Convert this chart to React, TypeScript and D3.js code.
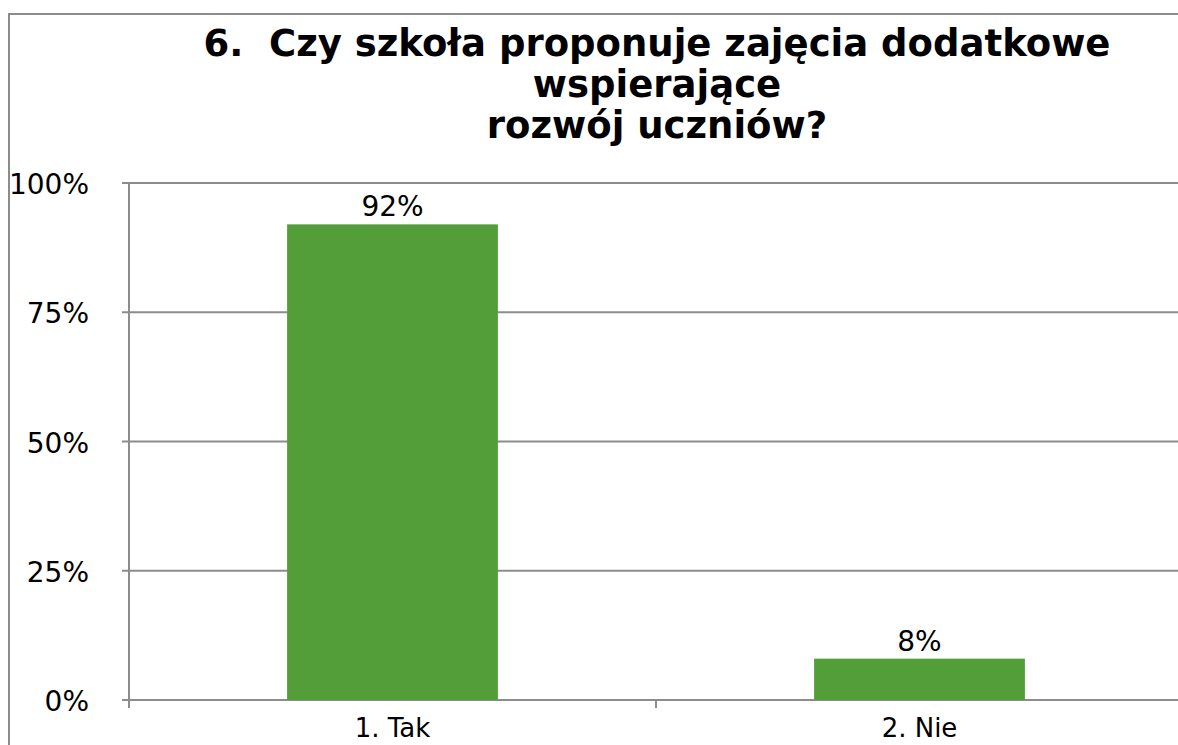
import React, { useEffect, useRef } from 'react';
import * as d3 from 'd3';

const categories = ['1. Tak', '2. Nie'];
const values = [92, 8];
const yTicks = [0, 25, 50, 75, 100];
const titleLines = ['6.  Czy szkoła proponuje zajęcia dodatkowe', 'wspierające', 'rozwój uczniów?'];

const App: React.FC = () => {
  const svgRef = useRef<SVGSVGElement>(null);

  useEffect(() => {
    if (!svgRef.current) return;
    const svg = d3.select(svgRef.current);
    svg.selectAll('*').remove();

    const width = 1178;
    const font = 'Verdana, "DejaVu Sans", sans-serif';
    const gridColor = '#8c8c8c';

    // outer chart frame (cropped on the right and bottom)
    svg.append('rect')
      .attr('x', 9)
      .attr('y', 14)
      .attr('width', 1200)
      .attr('height', 800)
      .attr('fill', '#ffffff')
      .attr('stroke', gridColor)
      .attr('stroke-width', 2);

    const left = 129;
    const top = 183;
    const bottom = 700;
    const catWidth = 527;

    const x = d3.scaleBand<string>()
      .domain(categories)
      .range([left, left + catWidth * categories.length])
      .paddingInner(0.6)
      .paddingOuter(0.3);

    const y = d3.scaleLinear().domain([0, 100]).range([bottom, top]);

    // gridlines
    svg.append('g')
      .selectAll('line')
      .data(yTicks)
      .join('line')
      .attr('x1', left - 7)
      .attr('x2', width + 10)
      .attr('y1', d => y(d))
      .attr('y2', d => y(d))
      .attr('stroke', gridColor)
      .attr('stroke-width', 2);

    // y axis
    svg.append('line')
      .attr('x1', left).attr('x2', left)
      .attr('y1', top).attr('y2', bottom + 7)
      .attr('stroke', gridColor)
      .attr('stroke-width', 2);

    svg.append('g')
      .selectAll('text')
      .data(yTicks)
      .join('text')
      .attr('x', 89)
      .attr('y', d => y(d) + 3)
      .attr('text-anchor', 'end')
      .attr('dominant-baseline', 'middle')
      .attr('font-family', font)
      .attr('font-size', 28)
      .attr('fill', '#000')
      .text(d => `${d}%`);

    // category boundary ticks
    const bounds = d3.range(categories.length + 1).map(i => left + i * catWidth);
    svg.append('g')
      .selectAll('line')
      .data(bounds)
      .join('line')
      .attr('x1', d => d).attr('x2', d => d)
      .attr('y1', bottom).attr('y2', bottom + 8)
      .attr('stroke', gridColor)
      .attr('stroke-width', 2);

    // bars
    svg.append('g')
      .selectAll('rect')
      .data(values)
      .join('rect')
      .attr('x', (_, i) => x(categories[i])!)
      .attr('width', x.bandwidth())
      .attr('y', d => y(d))
      .attr('height', d => bottom - y(d))
      .attr('fill', '#549e39');

    // value labels
    svg.append('g')
      .selectAll('text')
      .data(values)
      .join('text')
      .attr('x', (_, i) => x(categories[i])! + x.bandwidth() / 2)
      .attr('y', d => y(d) - 8)
      .attr('text-anchor', 'middle')
      .attr('font-family', font)
      .attr('font-size', 28)
      .attr('fill', '#000')
      .text(d => `${d}%`);

    // category labels
    svg.append('g')
      .selectAll('text')
      .data(categories)
      .join('text')
      .attr('x', d => x(d)! + x.bandwidth() / 2)
      .attr('y', 737)
      .attr('text-anchor', 'middle')
      .attr('font-family', font)
      .attr('font-size', 26)
      .attr('fill', '#000')
      .text(d => d);

    // title
    svg.append('g')
      .selectAll('text')
      .data(titleLines)
      .join('text')
      .attr('x', 657)
      .attr('y', (_, i) => 56 + i * 41)
      .attr('text-anchor', 'middle')
      .attr('font-family', font)
      .attr('font-weight', 'bold')
      .attr('font-size', 37)
      .attr('fill', '#000')
      .attr('xml:space', 'preserve')
      .style('white-space', 'pre')
      .text(d => d);
  }, []);

  return (
    <svg
      ref={svgRef}
      width={1178}
      height={745}
      style={{ position: 'fixed', left: 0, top: 0, display: 'block', background: '#fff' }}
    />
  );
};

export default App;
